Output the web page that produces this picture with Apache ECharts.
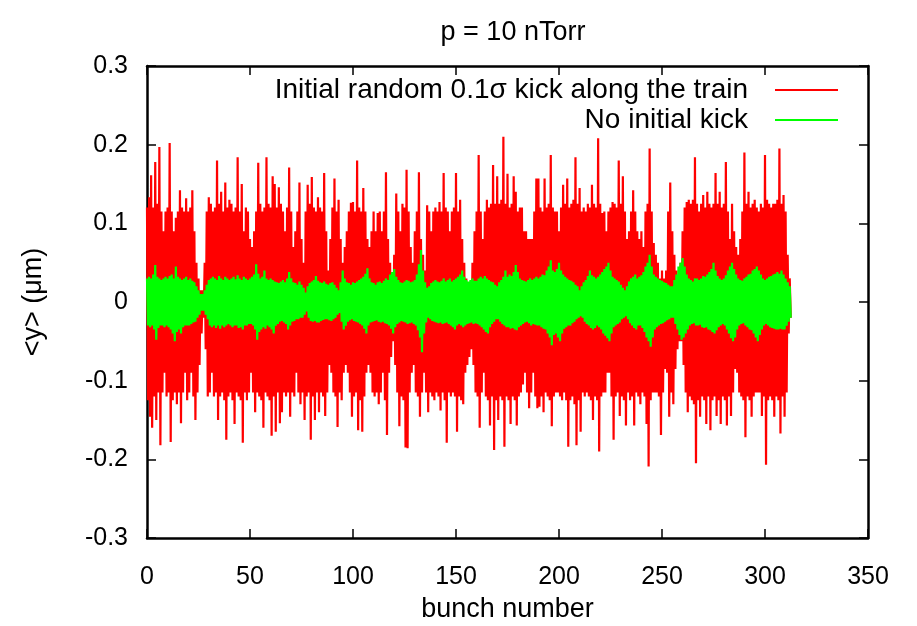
<!DOCTYPE html>
<html>
<head>
<meta charset="utf-8">
<script src="https://cdn.jsdelivr.net/npm/echarts@6/dist/echarts.min.js"></script>
<style>
html,body{margin:0;padding:0;background:#fff;}
#chart{width:917px;height:626px;}
</style>
</head>
<body>
<div id="chart"></div>
<script>
// Values: for every bunch (index = bunch number)
// an upper and a lower excursion of <y>, in um.
var redName = 'Initial random 0.1\u03c3 kick along the train';
var greenName = 'No initial kick';
var xTicks = [0, 50, 100, 150, 200, 250, 300, 350];
var yTicks = [-0.3, -0.2, -0.1, 0, 0.1, 0.2, 0.3];

var redTop = [
0.12,0.133,0.161,0.12,0.178,0.125,0.197,0.115,0.09,0.115,
0.12,0.202,0.115,0.09,0.107,0.115,0.142,0.12,0.115,0.132,
0.115,0.12,0.142,0.09,0.05,0.03,0.015,0.015,0.05,0.115,
0.133,0.125,0.115,0.12,0.18,0.125,0.14,0.115,0.152,0.12,
0.13,0.125,0.115,0.12,0.184,0.115,0.15,0.09,0.12,0.115,
0.08,0.07,0.09,0.115,0.177,0.125,0.115,0.12,0.184,0.125,
0.12,0.16,0.15,0.12,0.146,0.125,0.115,0.09,0.12,0.171,
0.115,0.07,0.09,0.115,0.152,0.08,0.05,0.115,0.149,0.125,
0.159,0.12,0.115,0.133,0.12,0.115,0.164,0.09,0.04,0.08,
0.12,0.157,0.115,0.13,0.08,0.05,0.07,0.09,0.115,0.126,
0.127,0.115,0.18,0.12,0.115,0.145,0.115,0.08,0.07,0.09,
0.115,0.09,0.113,0.115,0.09,0.115,0.165,0.08,0.05,0.03,
0.06,0.138,0.115,0.09,0.125,0.12,0.168,0.115,0.07,0.05,
0.09,0.115,0.165,0.08,0.06,0.04,0.123,0.115,0.09,0.115,
0.12,0.115,0.127,0.115,0.164,0.12,0.115,0.09,0.115,0.12,
0.164,0.115,0.13,0.08,0.05,0.03,0.025,0.02,0.05,0.09,
0.115,0.187,0.115,0.08,0.115,0.13,0.12,0.125,0.174,0.125,
0.16,0.125,0.13,0.21,0.125,0.163,0.12,0.125,0.16,0.14,
0.115,0.12,0.12,0.09,0.09,0.08,0.08,0.08,0.115,0.157,
0.157,0.12,0.115,0.157,0.12,0.125,0.187,0.12,0.115,0.115,
0.09,0.12,0.149,0.125,0.157,0.12,0.125,0.13,0.184,0.125,
0.145,0.115,0.12,0.115,0.125,0.12,0.149,0.125,0.12,0.208,
0.125,0.113,0.115,0.09,0.115,0.12,0.127,0.125,0.12,0.18,
0.125,0.16,0.115,0.08,0.09,0.115,0.142,0.115,0.09,0.08,
0.09,0.07,0.115,0.125,0.195,0.115,0.075,0.06,0.05,0.03,
0.04,0.03,0.04,0.115,0.152,0.09,0.06,0.04,0.03,0.05,
0.09,0.12,0.127,0.13,0.125,0.13,0.184,0.125,0.115,0.125,
0.136,0.12,0.14,0.125,0.12,0.125,0.164,0.125,0.14,0.12,
0.125,0.178,0.115,0.08,0.125,0.09,0.07,0.06,0.08,0.115,
0.19,0.125,0.14,0.12,0.125,0.13,0.12,0.115,0.125,0.12,
0.187,0.13,0.125,0.12,0.125,0.125,0.13,0.195,0.125,0.136,
0.115,0.06,0.03
];

var redBot = [
-0.125,-0.146,-0.16,-0.12,-0.15,-0.115,-0.182,-0.115,-0.09,-0.12,
-0.115,-0.178,-0.125,-0.115,-0.13,-0.115,-0.154,-0.115,-0.09,-0.125,
-0.115,-0.09,-0.12,-0.15,-0.115,-0.08,-0.04,-0.02,-0.06,-0.12,
-0.115,-0.09,-0.12,-0.115,-0.15,-0.12,-0.115,-0.125,-0.175,-0.12,
-0.115,-0.125,-0.155,-0.115,-0.12,-0.125,-0.179,-0.115,-0.125,-0.115,
-0.09,-0.115,-0.14,-0.115,-0.12,-0.125,-0.16,-0.115,-0.12,-0.125,
-0.17,-0.12,-0.165,-0.115,-0.154,-0.14,-0.115,-0.12,-0.115,-0.146,
-0.115,-0.12,-0.09,-0.115,-0.13,-0.115,-0.15,-0.12,-0.115,-0.175,
-0.12,-0.15,-0.115,-0.14,-0.115,-0.12,-0.145,-0.115,-0.08,-0.09,
-0.115,-0.12,-0.159,-0.115,-0.125,-0.09,-0.08,-0.09,-0.115,-0.146,
-0.12,-0.115,-0.163,-0.125,-0.165,-0.12,-0.09,-0.08,-0.09,-0.115,
-0.12,-0.115,-0.13,-0.115,-0.09,-0.125,-0.169,-0.09,-0.07,-0.05,
-0.08,-0.115,-0.158,-0.12,-0.125,-0.185,-0.186,-0.115,-0.09,-0.08,
-0.115,-0.12,-0.146,-0.115,-0.09,-0.115,-0.14,-0.115,-0.12,-0.125,
-0.115,-0.12,-0.138,-0.115,-0.125,-0.179,-0.115,-0.12,-0.115,-0.12,
-0.165,-0.12,-0.125,-0.13,-0.09,-0.08,-0.07,-0.06,-0.08,-0.115,
-0.12,-0.16,-0.115,-0.09,-0.12,-0.125,-0.157,-0.12,-0.188,-0.125,
-0.15,-0.12,-0.125,-0.184,-0.12,-0.125,-0.155,-0.12,-0.125,-0.157,
-0.12,-0.115,-0.105,-0.09,-0.115,-0.135,-0.115,-0.09,-0.12,-0.135,
-0.133,-0.12,-0.14,-0.115,-0.12,-0.125,-0.158,-0.12,-0.115,-0.115,
-0.12,-0.125,-0.115,-0.125,-0.184,-0.125,-0.12,-0.13,-0.182,-0.125,
-0.165,-0.115,-0.12,-0.115,-0.12,-0.125,-0.15,-0.12,-0.125,-0.19,
-0.12,-0.115,-0.115,-0.09,-0.09,-0.12,-0.175,-0.12,-0.115,-0.145,
-0.12,-0.125,-0.157,-0.115,-0.125,-0.12,-0.157,-0.115,-0.12,-0.13,
-0.115,-0.12,-0.155,-0.209,-0.125,-0.115,-0.115,-0.115,-0.12,-0.169,
-0.115,-0.085,-0.09,-0.146,-0.115,-0.13,-0.085,-0.06,-0.05,-0.05,
-0.08,-0.115,-0.14,-0.12,-0.125,-0.13,-0.205,-0.125,-0.146,-0.12,
-0.125,-0.155,-0.12,-0.163,-0.125,-0.12,-0.145,-0.125,-0.155,-0.12,
-0.125,-0.157,-0.12,-0.145,-0.115,-0.085,-0.09,-0.115,-0.12,-0.125,
-0.172,-0.12,-0.125,-0.146,-0.12,-0.115,-0.115,-0.115,-0.145,-0.12,
-0.207,-0.125,-0.12,-0.125,-0.146,-0.12,-0.125,-0.167,-0.12,-0.146,
-0.115,-0.04,-0.02
];

var greenTop = [
0.03,0.032,0.03,0.035,0.047,0.032,0.03,0.028,0.03,0.032,
0.03,0.033,0.035,0.03,0.045,0.032,0.03,0.028,0.03,0.032,
0.028,0.03,0.027,0.025,0.02,0.015,0.01,0.01,0.015,0.022,
0.028,0.03,0.032,0.03,0.028,0.033,0.03,0.028,0.032,0.03,
0.028,0.03,0.032,0.029,0.034,0.03,0.028,0.032,0.03,0.028,
0.03,0.032,0.035,0.048,0.036,0.03,0.032,0.04,0.03,0.028,
0.03,0.028,0.026,0.025,0.024,0.026,0.028,0.025,0.03,0.038,
0.03,0.025,0.024,0.022,0.026,0.022,0.018,0.012,0.02,0.024,
0.026,0.028,0.033,0.027,0.025,0.024,0.026,0.023,0.022,0.024,
0.025,0.022,0.018,0.015,0.025,0.04,0.03,0.025,0.024,0.022,
0.025,0.024,0.026,0.028,0.03,0.032,0.036,0.043,0.03,0.025,
0.024,0.022,0.025,0.026,0.024,0.027,0.03,0.028,0.035,0.038,
0.042,0.032,0.028,0.025,0.024,0.026,0.028,0.027,0.025,0.026,
0.028,0.035,0.048,0.066,0.04,0.025,0.018,0.02,0.024,0.026,
0.028,0.026,0.025,0.027,0.03,0.026,0.028,0.03,0.026,0.028,
0.03,0.032,0.035,0.04,0.032,0.028,0.026,0.028,0.03,0.027,
0.027,0.03,0.032,0.03,0.033,0.03,0.028,0.026,0.025,0.022,
0.02,0.025,0.028,0.032,0.04,0.032,0.035,0.033,0.038,0.047,
0.038,0.03,0.028,0.027,0.026,0.028,0.03,0.028,0.03,0.032,
0.03,0.032,0.035,0.034,0.04,0.045,0.053,0.04,0.038,0.042,
0.05,0.04,0.035,0.032,0.03,0.028,0.027,0.025,0.022,0.02,
0.015,0.02,0.025,0.028,0.033,0.04,0.034,0.032,0.03,0.032,
0.035,0.038,0.042,0.045,0.05,0.04,0.032,0.03,0.028,0.026,
0.022,0.018,0.015,0.02,0.026,0.03,0.032,0.035,0.03,0.032,
0.034,0.038,0.045,0.05,0.06,0.045,0.035,0.032,0.03,0.028,
0.027,0.025,0.024,0.022,0.02,0.02,0.028,0.035,0.045,0.05,
0.056,0.045,0.035,0.03,0.028,0.026,0.03,0.03,0.028,0.03,
0.033,0.032,0.035,0.038,0.042,0.05,0.04,0.033,0.03,0.028,
0.03,0.034,0.04,0.045,0.05,0.042,0.035,0.03,0.028,0.027,
0.03,0.032,0.035,0.036,0.04,0.042,0.045,0.04,0.035,0.03,
0.028,0.03,0.032,0.033,0.035,0.036,0.038,0.036,0.04,0.035,
0.03,0.025,0.02
];

var greenBot = [
-0.03,-0.032,-0.03,-0.035,-0.048,-0.033,-0.03,-0.03,-0.032,-0.03,
-0.032,-0.035,-0.04,-0.05,-0.038,-0.035,-0.04,-0.032,-0.03,-0.03,
-0.03,-0.028,-0.026,-0.025,-0.02,-0.016,-0.011,-0.011,-0.016,-0.022,
-0.03,-0.032,-0.03,-0.033,-0.03,-0.034,-0.03,-0.032,-0.03,-0.028,
-0.03,-0.032,-0.03,-0.03,-0.033,-0.032,-0.035,-0.03,-0.03,-0.028,
-0.028,-0.03,-0.035,-0.048,-0.038,-0.035,-0.032,-0.034,-0.03,-0.032,
-0.035,-0.04,-0.03,-0.028,-0.025,-0.024,-0.026,-0.028,-0.035,-0.03,
-0.025,-0.024,-0.022,-0.022,-0.02,-0.02,-0.016,-0.012,-0.02,-0.024,
-0.025,-0.024,-0.026,-0.026,-0.024,-0.023,-0.022,-0.022,-0.023,-0.024,
-0.022,-0.02,-0.016,-0.014,-0.025,-0.035,-0.03,-0.025,-0.023,-0.022,
-0.024,-0.025,-0.026,-0.028,-0.03,-0.034,-0.04,-0.03,-0.026,-0.025,
-0.024,-0.023,-0.025,-0.026,-0.025,-0.027,-0.028,-0.03,-0.034,-0.04,
-0.032,-0.028,-0.026,-0.024,-0.025,-0.026,-0.028,-0.027,-0.026,-0.028,
-0.03,-0.036,-0.045,-0.064,-0.04,-0.026,-0.02,-0.022,-0.024,-0.025,
-0.026,-0.027,-0.026,-0.028,-0.027,-0.026,-0.028,-0.03,-0.032,-0.035,
-0.03,-0.028,-0.03,-0.032,-0.03,-0.028,-0.027,-0.026,-0.028,-0.027,
-0.028,-0.03,-0.032,-0.035,-0.038,-0.04,-0.032,-0.028,-0.025,-0.022,
-0.022,-0.025,-0.028,-0.03,-0.032,-0.032,-0.034,-0.033,-0.035,-0.036,
-0.032,-0.03,-0.028,-0.026,-0.025,-0.027,-0.03,-0.028,-0.029,-0.03,
-0.03,-0.032,-0.034,-0.035,-0.04,-0.045,-0.055,-0.042,-0.04,-0.045,
-0.05,-0.04,-0.034,-0.032,-0.03,-0.03,-0.027,-0.025,-0.022,-0.02,
-0.018,-0.02,-0.025,-0.028,-0.03,-0.033,-0.035,-0.033,-0.03,-0.032,
-0.035,-0.04,-0.043,-0.046,-0.05,-0.04,-0.032,-0.03,-0.028,-0.026,
-0.022,-0.02,-0.018,-0.022,-0.027,-0.03,-0.033,-0.035,-0.03,-0.03,
-0.033,-0.038,-0.045,-0.05,-0.057,-0.045,-0.035,-0.032,-0.03,-0.028,
-0.027,-0.025,-0.023,-0.022,-0.02,-0.02,-0.028,-0.035,-0.042,-0.048,
-0.045,-0.04,-0.035,-0.03,-0.028,-0.027,-0.03,-0.03,-0.029,-0.032,
-0.033,-0.032,-0.035,-0.036,-0.038,-0.04,-0.036,-0.032,-0.03,-0.028,
-0.03,-0.035,-0.04,-0.046,-0.05,-0.045,-0.035,-0.03,-0.028,-0.027,
-0.03,-0.032,-0.035,-0.036,-0.04,-0.045,-0.05,-0.042,-0.035,-0.03,
-0.028,-0.03,-0.032,-0.033,-0.034,-0.035,-0.035,-0.034,-0.035,-0.035,
-0.03,-0.025,-0.02
];

var FONT = 'Liberation Sans';
var FS_TICK = 25;
var FS_TEXT = 27;
var FS_LEG = 28;

// interleave: at bunch b the upper excursion, half a bunch later the lower one
function zigzag(top, bot){
  var out = [];
  for (var i = 0; i < top.length; i++) {
    out.push([i, top[i]]);
    out.push([i + 0.5, bot[i]]);
  }
  return out;
}

var chart = echarts.init(document.getElementById('chart'), null, {renderer:'canvas'});

function axisCommon(){
  return {
    axisLine:{show:true, onZero:false, lineStyle:{color:'#000', width:2.5}},
    axisTick:{show:true, inside:true, length:9, lineStyle:{color:'#000', width:1.5}},
    splitLine:{show:false}
  };
}

var option = {
  animation:false,
  backgroundColor:'#fff',
  title:{
    text:'p = 10 nTorr', left:508, top:14, textAlign:'center',
    textStyle:{fontFamily:FONT, fontSize:FS_TEXT, fontWeight:'normal', color:'#000'}
  },
  grid:{left:147, right:49, top:66, bottom:88, containLabel:false, outerBoundsMode:'none'},
  legend:[
    {data:[redName], right:74, top:71, orient:'vertical', align:'right',
     icon:'rect', itemWidth:63, itemHeight:2,
     textStyle:{fontFamily:FONT, fontSize:FS_LEG, color:'#000', padding:[0,22,0,0]}},
    {data:[greenName], right:74, top:101, orient:'vertical', align:'right',
     icon:'rect', itemWidth:63, itemHeight:2,
     textStyle:{fontFamily:FONT, fontSize:FS_LEG, color:'#000', padding:[0,22,0,0]}}
  ],
  xAxis:[
    Object.assign(axisCommon(), {
      type:'value', min:xTicks[0], max:xTicks[xTicks.length-1], interval:50,
      name:'bunch number', nameLocation:'middle', nameGap:58,
      nameTextStyle:{fontFamily:FONT, fontSize:FS_TEXT, color:'#000'},
      axisLabel:{fontFamily:FONT, fontSize:FS_TICK, color:'#000', margin:27}
    }),
    Object.assign(axisCommon(), {
      type:'value', position:'top', min:xTicks[0], max:xTicks[xTicks.length-1], interval:50,
      axisLabel:{show:false}
    })
  ],
  yAxis:[
    Object.assign(axisCommon(), {
      type:'value', min:yTicks[0], max:yTicks[yTicks.length-1], interval:0.1,
      name:'<y> (\u03bcm)', nameLocation:'middle', nameGap:100,
      nameTextStyle:{fontFamily:FONT, fontSize:FS_TEXT, color:'#000'},
      axisLabel:{fontFamily:FONT, fontSize:FS_TICK, color:'#000', margin:19,
        formatter:function(v){ return String(Math.round(v*10)/10); }}
    }),
    Object.assign(axisCommon(), {
      type:'value', position:'right', min:yTicks[0], max:yTicks[yTicks.length-1], interval:0.1,
      axisLabel:{show:false}
    })
  ],
  series:[
    {name:redName, type:'line', data:zigzag(redTop, redBot), showSymbol:false, symbol:'none',
     sampling:null, lineStyle:{color:'#ff0000', width:2.2}, itemStyle:{color:'#ff0000'}, z:2},
    {name:greenName, type:'line', data:zigzag(greenTop, greenBot), showSymbol:false, symbol:'none',
     sampling:null, lineStyle:{color:'#00ff00', width:2.2}, itemStyle:{color:'#00ff00'}, z:3}
  ]
};
chart.setOption(option);
</script>
</body>
</html>
